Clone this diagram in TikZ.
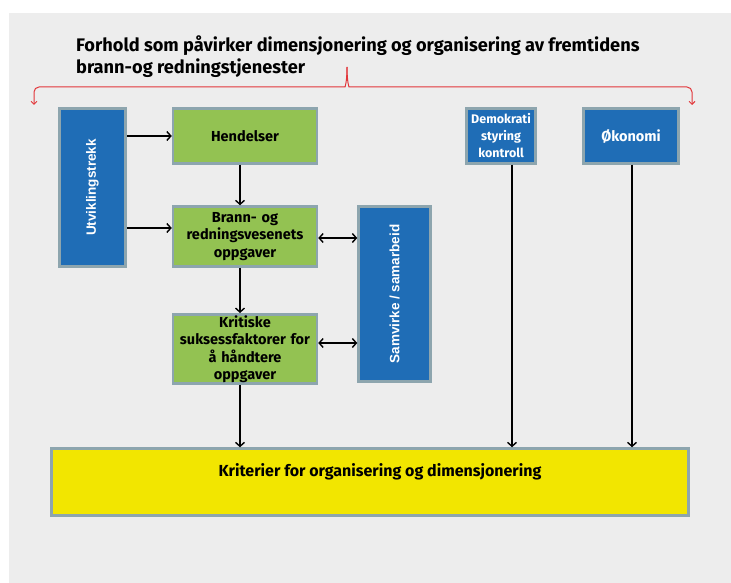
\documentclass[tikz,border=0pt]{standalone}
\usepackage{fontspec}
\setmainfont{Fira Sans}
\newfontfamily\arialfont{Liberation Sans}
\usetikzlibrary{positioning,arrows.meta}
\definecolor{bggray}{HTML}{EDEDED}
\definecolor{boxblue}{HTML}{1F6DB6}
\definecolor{boxgreen}{HTML}{93C252}
\definecolor{boxyellow}{HTML}{F2E600}
\definecolor{boxedge}{HTML}{8DA5AE}
\definecolor{bracered}{HTML}{E2363A}
\tikzset{box/.style={draw=boxedge,line width=2.5pt,inner sep=1pt,align=center,font=\bfseries\fontsize{14.5}{17.5}\selectfont}}
\tikzset{bluebox/.style={box,fill=boxblue,text=white}}
\tikzset{greenbox/.style={box,fill=boxgreen,text=black,minimum width=142pt,text width=142pt}}
\tikzset{sidebox/.style={bluebox,font=\arialfont\bfseries\fontsize{13.5}{15}\selectfont}}
\tikzset{transition/.style={-{Straight Barb[length=4pt,width=9pt]},line width=1.4pt}}
\tikzset{both/.style={{Straight Barb[length=4pt,width=9pt]}-{Straight Barb[length=4pt,width=9pt]}}}
\tikzset{brace/.style={-{Straight Barb[length=3pt,width=6pt]},draw=bracered,line width=1pt,rounded corners=5pt}}

\begin{document}
\begin{tikzpicture}[x=1pt,y=-1pt]
  \useasboundingbox (0,0) rectangle (731,583);
  \fill[bggray] (9,13) rectangle (731,583);
  % title and brace
  \node[anchor=north west,align=left,inner sep=0pt,font=\bfseries\fontsize{18.2}{22}\selectfont] (ttl) at (76,36)
    {Forhold som påvirker dimensjonering og organisering av fremtidens\\brann-og redningstjenester};
  \draw[brace] (347,67) .. controls (347,82) and (345,87) .. (340,87) -- (34,87) -- (34,105);
  \draw[brace] (347,67) .. controls (347,82) and (349,87) .. (354,87) -- (692,87) -- (692,105);
  % boxes
  \node[sidebox,minimum width=66pt,minimum height=158pt] (utv) at (92.5,187.5)
    {\rotatebox{90}{Utviklingstrekk}};
  \node[greenbox,minimum height=55pt] (hend) at (245,136) {Hendelser};
  \node[greenbox,minimum height=60pt] (brann) at (245,236.5) {Brann- og\\redningsvesenets\\oppgaver};
  \node[greenbox,minimum height=65pt] (krit) at (245,349) {Kritiske\\suksessfaktorer for\\å håndtere\\oppgaver};
  \node[sidebox,minimum width=72pt,minimum height=175pt] (samv) at (394.5,294)
    {\rotatebox{90}{Samvirke / samarbeid}};
  \node[bluebox,minimum width=69pt,minimum height=55pt,font=\bfseries\fontsize{12.5}{17}\selectfont] (demo) at (501,136) {Demokrati\\styring\\kontroll};
  \node[bluebox,minimum width=95pt,minimum height=55pt] (oko) at (631,136) {Økonomi};
  \node[box,fill=boxyellow,minimum width=637pt,minimum height=67pt,
    label={[xshift=10pt,yshift=10pt,font=\bfseries\fontsize{16}{17}\selectfont]center:Kriterier for organisering og dimensjonering}] (krav) at (370,482) {};
  % connectors
  \path[transition]
    (utv.east |- hend.west) edge (hend.west)
    ([yshift=8.5pt]utv.east |- brann.west) edge ([yshift=8.5pt]brann.west)
    ([xshift=-5pt]hend.south) edge ([xshift=-5pt]brann.north)
    ([xshift=-5pt]brann.south) edge ([xshift=-5pt]krit.north)
    ([xshift=-5pt]krit.south) edge ([xshift=-5pt]krit.south |- krav.north)
    ([xshift=11pt]demo.south) edge ([xshift=11pt]demo.south |- krav.north)
    ([xshift=1pt]oko.south) edge ([xshift=1pt]oko.south |- krav.north)
    ([yshift=-1.5pt]brann.east) edge[both] ([yshift=-1.5pt]brann.east -| samv.west)
    ([yshift=6pt]krit.east) edge[both] ([yshift=6pt]krit.east -| samv.west);
\end{tikzpicture}
\end{document}
